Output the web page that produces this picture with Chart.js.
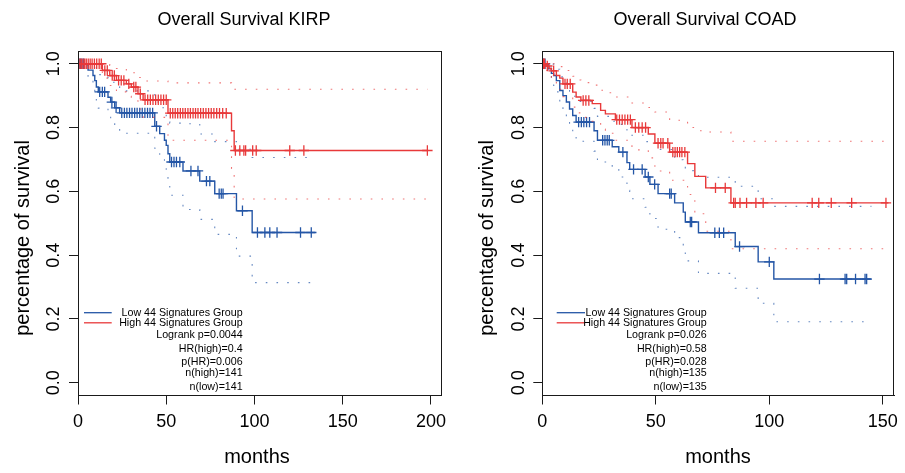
<!DOCTYPE html>
<html>
<head>
<meta charset="utf-8">
<script src="https://cdn.jsdelivr.net/npm/chart.js@4.4.1/dist/chart.umd.min.js"></script>
<style>
  html, body { margin: 0; padding: 0; background: #ffffff; }
  #wrap { position: relative; width: 905px; height: 473px; overflow: hidden; }
  #wrap canvas { position: absolute; top: 0; }
</style>
</head>
<body>
<div id="wrap">
  <canvas id="kirp" width="460" height="473" style="left:0;width:460px;height:473px"></canvas>
  <canvas id="coad" width="445" height="473" style="left:460px;width:445px;height:473px"></canvas>
</div>
<script>
// ---------- shared axis ticks ----------
const yTickValues = [0, 0.2, 0.4, 0.6, 0.8, 1.0];
const kirpXTicks = [0, 50, 100, 150, 200];
const coadXTicks = [0, 50, 100, 150];

// ---------- KIRP : low signature group ----------
const kirpLowTime  = [5.7, 8.5, 9.5, 10.4, 11.5, 17, 18.5, 20.8, 23.6, 43.5, 46.3, 49, 50, 51, 52, 59.5, 69, 77.5, 89.8, 98.7];
const kirpLowSurv  = [0.980, 0.963, 0.947, 0.927, 0.912, 0.895, 0.880, 0.862, 0.846, 0.804, 0.781, 0.760, 0.744, 0.718, 0.692, 0.664, 0.632, 0.593, 0.539, 0.471];
const kirpLowUpper = [1.000, 0.999, 0.990, 0.977, 0.966, 0.954, 0.942, 0.928, 0.915, 0.880, 0.862, 0.844, 0.836, 0.818, 0.814, 0.812, 0.780, 0.756, 0.732, 0.706];
const kirpLowLower = [0.951, 0.928, 0.906, 0.880, 0.861, 0.840, 0.822, 0.801, 0.782, 0.735, 0.708, 0.684, 0.662, 0.630, 0.588, 0.543, 0.512, 0.465, 0.397, 0.314];
const kirpLowCensor = [0.6, 1.4, 2.3, 3.2, 12.3, 13.8, 15.1, 19.2, 21.6, 24.8, 26.3, 27.7, 29.2, 30.6, 32.1, 33.5, 35, 36.4, 37.9, 39.4, 40.8, 42.3, 44.5, 53, 54.4, 55.8, 57.7, 64, 68, 72.8, 74.7, 80, 81.2, 82.2, 93.2, 101.7, 105.9, 108.7, 112.8, 126.1, 132.2];
const kirpLowEnd = 134.5;

// ---------- KIRP : high signature group ----------
const kirpHighTime  = [13.8, 18, 21.8, 27.4, 30.2, 34, 36.9, 51, 87, 88.5];
const kirpHighSurv  = [0.979, 0.963, 0.948, 0.937, 0.927, 0.906, 0.887, 0.845, 0.790, 0.728];
const kirpHighUpper = [1.000, 0.995, 0.985, 0.978, 0.972, 0.957, 0.946, 0.940, 0.929, 0.920];
const kirpHighLower = [0.955, 0.932, 0.912, 0.898, 0.884, 0.858, 0.832, 0.760, 0.672, 0.576];
const kirpHighCensor = [0.4, 1.2, 2, 2.9, 3.8, 4.7, 5.8, 6.9, 8, 9.3, 10.6, 12, 13.2, 15.2, 16.6, 19.4, 20.6, 23, 24.5, 26, 28.8, 31.6, 32.8, 35.3, 38, 39.5, 41, 42.5, 44, 45.5, 47, 48.5, 50, 52.3, 53.7, 55.1, 56.5, 58, 59.4, 60.8, 62.3, 63.7, 65.2, 66.6, 68, 69.5, 71, 72.5, 74, 75.5, 77, 78.6, 80.2, 82, 84, 89.2, 91.7, 94, 95, 99, 101, 120, 128, 198];
const kirpHighEnd = 198;

// ---------- COAD : low signature group ----------
const coadLowTime  = [2.5, 4, 5, 6.2, 7.7, 9.1, 10.6, 12, 13.4, 14.9, 22.8, 24.3, 30.8, 33.7, 37.3, 38.5, 45.3, 47.4, 51, 58.3, 62.1, 63, 68.8, 85, 95.1, 102];
const coadLowSurv  = [0.985, 0.970, 0.963, 0.947, 0.916, 0.900, 0.880, 0.858, 0.838, 0.817, 0.790, 0.760, 0.740, 0.723, 0.690, 0.669, 0.645, 0.622, 0.593, 0.564, 0.535, 0.504, 0.470, 0.427, 0.379, 0.325];
const coadLowUpper = [1.000, 0.999, 0.995, 0.983, 0.959, 0.947, 0.933, 0.914, 0.898, 0.882, 0.860, 0.835, 0.820, 0.810, 0.790, 0.776, 0.756, 0.751, 0.731, 0.699, 0.681, 0.665, 0.644, 0.616, 0.577, 0.553];
const coadLowLower = [0.960, 0.942, 0.932, 0.912, 0.875, 0.855, 0.830, 0.805, 0.782, 0.757, 0.726, 0.692, 0.668, 0.645, 0.603, 0.577, 0.550, 0.515, 0.481, 0.455, 0.420, 0.382, 0.343, 0.296, 0.249, 0.191];
const coadLowCensor = [0.5, 1.2, 16, 17.2, 18.3, 19.5, 20.8, 26.6, 27.6, 28.6, 29.5, 35.5, 40.2, 44, 46.7, 49.5, 56.1, 56.8, 65.2, 65.8, 76, 78, 79.9, 86.9, 100, 122.1, 133.4, 134.1, 138, 142.2, 142.9];
const coadLowEnd = 145;

// ---------- COAD : high signature group ----------
const coadHighTime  = [1.5, 3, 4, 6.2, 7.7, 9.1, 13.4, 14.9, 17, 22, 25.7, 27.8, 32.2, 39.5, 46.7, 49.6, 56.1, 64, 67.2, 72, 83.1];
const coadHighSurv  = [0.993, 0.985, 0.978, 0.963, 0.955, 0.937, 0.911, 0.896, 0.885, 0.875, 0.854, 0.843, 0.825, 0.800, 0.780, 0.751, 0.723, 0.687, 0.647, 0.611, 0.564];
const coadHighUpper = [1.000, 1.000, 1.000, 0.995, 0.991, 0.979, 0.961, 0.949, 0.941, 0.933, 0.917, 0.909, 0.896, 0.877, 0.863, 0.849, 0.823, 0.800, 0.790, 0.786, 0.757];
const coadHighLower = [0.979, 0.965, 0.954, 0.932, 0.920, 0.897, 0.864, 0.846, 0.832, 0.820, 0.795, 0.782, 0.760, 0.730, 0.705, 0.664, 0.635, 0.590, 0.530, 0.475, 0.420];
const coadHighCensor = [0.5, 1, 2.2, 5, 10, 11, 12.3, 18, 19.2, 20.5, 32.8, 34, 35.2, 36.4, 37.6, 38.8, 41, 42.5, 44, 45.5, 51, 52.2, 53.2, 55.3, 57.5, 58.5, 59.5, 60.5, 61.5, 62.8, 76.3, 80.6, 84.3, 85, 87.1, 90, 94.1, 97.3, 118.9, 121.8, 127.3, 136.3, 151.4];
const coadHighEnd = 152.5;

// ---------- legend / statistics text ----------
const groupNames = ['Low 44 Signatures Group', 'High 44 Signatures Group'];
const kirpStats = ['Logrank p=0.0044', 'HR(high)=0.4', 'p(HR)=0.006', 'n(high)=141', 'n(low)=141'];
const coadStats = ['Logrank p=0.026', 'HR(high)=0.58', 'p(HR)=0.028', 'n(high)=135', 'n(low)=135'];

// ---------- styling ----------
const BLUE = '#2456a6';
const RED = '#e8393a';
const BLUE_CI = 'rgba(36,86,166,0.7)';
const RED_CI = 'rgba(232,57,58,0.7)';
const FONT = "'Liberation Sans', Arial, Helvetica, sans-serif";

// survival value just after time t for a step curve
function survAt(times, values, t) {
  let v = 1;
  for (let i = 0; i < times.length; i++) if (times[i] <= t) v = values[i];
  return v;
}
function stepPoints(times, values, end) {
  const pts = [{ x: 0, y: 1 }];
  times.forEach((t, i) => pts.push({ x: t, y: values[i] }));
  pts.push({ x: end, y: values[values.length - 1] });
  return pts;
}
function censorPoints(times, values, censor) {
  return censor.map(t => ({ x: t, y: survAt(times, values, t) }));
}

function groupDatasets(times, surv, upper, lower, censor, end, color, ciColor, base) {
  const ci = (vals) => ({
    type: 'line', data: stepPoints(times, vals, end), stepped: 'before',
    borderColor: ciColor, borderWidth: 1.1, borderDash: [1.6, 9.1],
    pointRadius: 0, fill: false, order: base + 3
  });
  return [
    ci(upper),
    ci(lower),
    { type: 'line', data: stepPoints(times, surv, end), stepped: 'before',
      borderColor: color, borderWidth: 1.4, pointRadius: 0, fill: false, order: base + 1 },
    { type: 'scatter', data: censorPoints(times, surv, censor), showLine: false,
      pointStyle: 'cross', pointRadius: 5.2, pointBorderWidth: 1.3, pointHoverRadius: 5.2,
      borderColor: color, backgroundColor: color, order: base }
  ];
}

// frame, titles, axis labels and legend box text
const panelDecor = {
  id: 'panelDecor',
  afterDraw(chart, args, o) {
    const { ctx, chartArea: a } = chart;
    ctx.save();
    ctx.strokeStyle = '#1a1a1a';
    ctx.lineWidth = 1;
    ctx.strokeRect(Math.round(a.left) + 0.5, Math.round(a.top) + 0.5,
                   Math.round(a.right) - Math.round(a.left) - 1, Math.round(a.bottom) - Math.round(a.top) - 1);

    ctx.fillStyle = '#000';
    ctx.textBaseline = 'alphabetic';
    ctx.textAlign = 'center';
    ctx.font = '18px ' + FONT;
    ctx.fillText(o.title, o.titleX, o.titleY);
    ctx.font = '20px ' + FONT;
    ctx.fillText('months', o.xLabelX, o.xLabelY);
    ctx.save();
    ctx.translate(o.yLabelX, o.yLabelY);
    ctx.rotate(-Math.PI / 2);
    ctx.fillText('percentage of survival', 0, 0);
    ctx.restore();

    // legend
    const L = o.legend;
    ctx.lineWidth = 1.3;
    [BLUE, RED].forEach((c, i) => {
      ctx.strokeStyle = c;
      ctx.beginPath();
      ctx.moveTo(L.lineX0, L.rows[i]);
      ctx.lineTo(L.lineX1, L.rows[i]);
      ctx.stroke();
    });
    ctx.font = '10.7px ' + FONT;
    ctx.textAlign = 'right';
    ctx.textBaseline = 'middle';
    const lines = groupNames.concat(o.stats);
    lines.forEach((s, i) => ctx.fillText(s, L.textRight, L.rows[i]));
    ctx.restore();
  }
};

function makeScales(xMax, xTicks, yWidth, xHeight) {
  const tickFont = { family: FONT, size: 18 };
  return {
    x: {
      type: 'linear', position: 'bottom', min: 0, max: xMax,
      afterBuildTicks: s => { s.ticks = xTicks.map(v => ({ value: v })); },
      afterFit: s => { s.height = xHeight; },
      ticks: { font: tickFont, color: '#000', padding: 7, autoSkip: false, maxRotation: 0,
               callback: v => String(v) },
      grid: { display: true, drawOnChartArea: false, drawTicks: true, tickLength: 9, color: '#1a1a1a', lineWidth: 1 },
      border: { display: true, color: '#1a1a1a', width: 1 }
    },
    y: {
      type: 'linear', position: 'left', min: -0.04, max: 1.04,
      afterBuildTicks: s => { s.ticks = yTickValues.map(v => ({ value: v })); },
      afterFit: s => { s.width = yWidth; },
      ticks: { font: tickFont, color: '#000', padding: 2, autoSkip: false,
               minRotation: 90, maxRotation: 90, crossAlign: 'center',
               callback: v => Number(v).toFixed(1) },
      grid: { display: true, drawOnChartArea: false, drawTicks: true, tickLength: 9, color: '#1a1a1a', lineWidth: 1 },
      border: { display: true, color: '#1a1a1a', width: 1 }
    }
  };
}

function makeChart(id, cfg) {
  const datasets = [
    ...groupDatasets(cfg.low.time, cfg.low.surv, cfg.low.upper, cfg.low.lower, cfg.low.censor, cfg.low.end, BLUE, BLUE_CI, 10),
    ...groupDatasets(cfg.high.time, cfg.high.surv, cfg.high.upper, cfg.high.lower, cfg.high.censor, cfg.high.end, RED, RED_CI, 0)
  ];
  return new Chart(document.getElementById(id), {
    type: 'line',
    data: { datasets },
    options: {
      responsive: false, animation: false, devicePixelRatio: 1,
      parsing: false, normalized: true,
      layout: { padding: cfg.padding },
      scales: makeScales(cfg.xMax, cfg.xTicks, cfg.yWidth, cfg.xHeight),
      plugins: {
        legend: { display: false }, tooltip: { enabled: false }, title: { display: false },
        panelDecor: cfg.decor
      }
    },
    plugins: [panelDecor]
  });
}

const legendRows = [312.7, 322.8, 334.7, 349, 362.5, 373.3, 387];

makeChart('kirp', {
  low: { time: kirpLowTime, surv: kirpLowSurv, upper: kirpLowUpper, lower: kirpLowLower, censor: kirpLowCensor, end: kirpLowEnd },
  high: { time: kirpHighTime, surv: kirpHighSurv, upper: kirpHighUpper, lower: kirpHighLower, censor: kirpHighCensor, end: kirpHighEnd },
  xMax: 206, xTicks: kirpXTicks, yWidth: 78, xHeight: 77.5,
  padding: { top: 51, right: 18.5, bottom: 0, left: 0 },
  decor: {
    title: 'Overall Survival KIRP', titleX: 244, titleY: 25,
    xLabelX: 257, xLabelY: 462.5, yLabelX: 29.3, yLabelY: 238,
    stats: kirpStats,
    legend: { lineX0: 84, lineX1: 111.7, textRight: 242.7, rows: legendRows }
  }
});

makeChart('coad', {
  low: { time: coadLowTime, surv: coadLowSurv, upper: coadLowUpper, lower: coadLowLower, censor: coadLowCensor, end: coadLowEnd },
  high: { time: coadHighTime, surv: coadHighSurv, upper: coadHighUpper, lower: coadHighLower, censor: coadHighCensor, end: coadHighEnd },
  xMax: 155, xTicks: coadXTicks, yWidth: 82.3, xHeight: 77.5,
  padding: { top: 51, right: 5, bottom: 0, left: 0 },
  decor: {
    title: 'Overall Survival COAD', titleX: 245, titleY: 25,
    xLabelX: 258, xLabelY: 462.5, yLabelX: 33.3, yLabelY: 238,
    stats: coadStats,
    legend: { lineX0: 96.7, lineX1: 125, textRight: 246.7, rows: legendRows }
  }
});
</script>
</body>
</html>
